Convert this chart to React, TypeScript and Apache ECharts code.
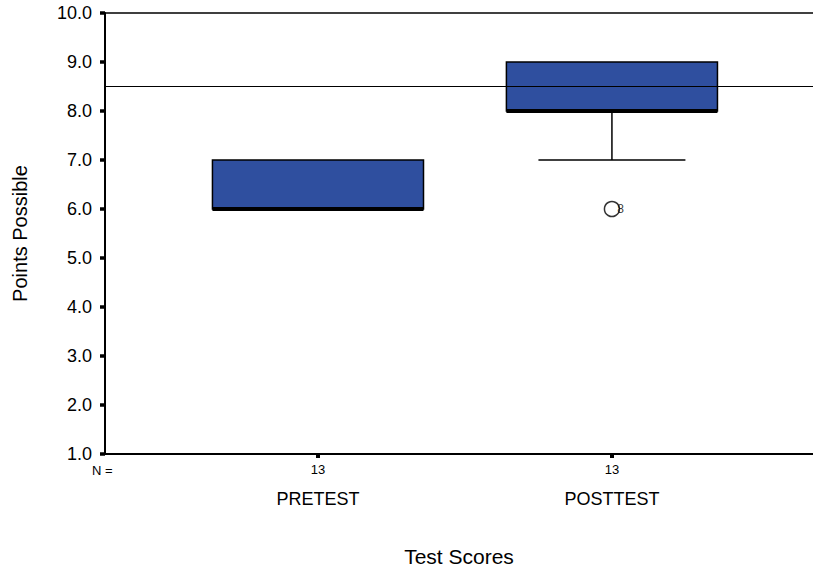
import React, { useEffect, useRef } from "react";
import * as echarts from "echarts";

// Box summaries: [position, lower whisker, Q1, median, Q3, upper whisker]
const categories = ["PRETEST", "POSTTEST"];
const groupCounts = [13, 13];
const pretestBox = [1, 6, 6, 6, 7, 7];
const posttestBox = [2, 7, 8, 8, 9, 9];
// Outliers: [position, value, case label]
const outliers: [number, number, string][] = [[2, 6, "8"]];
const referenceValue = 8.5;
const yTicks = [1, 2, 3, 4, 5, 6, 7, 8, 9, 10];

const FONT = "Liberation Sans, Arial, sans-serif";
const BOX_FILL = "#2f4f9f";

export default function App() {
  const ref = useRef<HTMLDivElement>(null);

  useEffect(() => {
    if (!ref.current) return;
    const chart = echarts.init(ref.current, null, { renderer: "svg" });

    const xMin = 0.2755;
    const xMax = 2.684;
    const halfBox = 0.359;
    const halfCap = 0.25;

    const boxes = [pretestBox, posttestBox];

    const renderBox = (params: any, api: any) => {
      const x = api.value(0);
      const lo = api.value(1);
      const q1 = api.value(2);
      const med = api.value(3);
      const q3 = api.value(4);
      const hi = api.value(5);
      const pL = api.coord([x - halfBox, q3]);
      const pR = api.coord([x + halfBox, q1]);
      const pC = api.coord([x, med]);
      const pLo = api.coord([x, lo]);
      const pHi = api.coord([x, hi]);
      const pQ1 = api.coord([x, q1]);
      const pQ3 = api.coord([x, q3]);
      const capL = api.coord([x - halfCap, lo])[0];
      const capR = api.coord([x + halfCap, lo])[0];
      const children: any[] = [];
      const lineStyle = { stroke: "#000", lineWidth: 1.5 };
      if (lo < q1) {
        children.push({ type: "line", shape: { x1: pQ1[0], y1: pQ1[1], x2: pLo[0], y2: pLo[1] }, style: lineStyle });
        children.push({ type: "line", shape: { x1: capL, y1: pLo[1], x2: capR, y2: pLo[1] }, style: lineStyle });
      }
      if (hi > q3) {
        children.push({ type: "line", shape: { x1: pQ3[0], y1: pQ3[1], x2: pHi[0], y2: pHi[1] }, style: lineStyle });
        children.push({ type: "line", shape: { x1: capL, y1: pHi[1], x2: capR, y2: pHi[1] }, style: lineStyle });
      }
      children.push({
        type: "rect",
        shape: { x: pL[0], y: pL[1], width: pR[0] - pL[0], height: pR[1] - pL[1] },
        style: { fill: BOX_FILL, stroke: "#000", lineWidth: 1.5 },
      });
      children.push({
        type: "line",
        shape: { x1: pL[0], y1: pC[1], x2: pR[0], y2: pC[1] },
        style: { stroke: "#000", lineWidth: 4 },
      });
      return { type: "group", children };
    };

    const option: any = {
      animation: false,
      backgroundColor: "#fff",
      textStyle: { fontFamily: FONT },
      grid: { left: 105, right: 0, top: 13, bottom: 119, containLabel: false },
      xAxis: [
        {
          type: "value",
          min: xMin,
          max: xMax,
          position: "bottom",
          axisLine: { show: true, onZero: false, lineStyle: { color: "#000", width: 2 } },
          axisTick: { show: true, customValues: [1, 2], length: 4, lineStyle: { color: "#000", width: 4 } },
          axisLabel: {
            customValues: [1, 2],
            formatter: (v: number) => String(groupCounts[Math.round(v) - 1] ?? ""),
            color: "#000",
            fontSize: 13,
            margin: 9,
            fontFamily: FONT,
          },
          splitLine: { show: false },
        },
        {
          type: "value",
          min: xMin,
          max: xMax,
          position: "bottom",
          offset: 28,
          axisLine: { show: false },
          axisTick: { show: false },
          axisLabel: {
            customValues: [1, 2],
            formatter: (v: number) => categories[Math.round(v) - 1] ?? "",
            color: "#000",
            fontSize: 18,
            margin: 8,
            fontFamily: FONT,
          },
          splitLine: { show: false },
          name: "Test Scores",
          nameLocation: "middle",
          nameGap: 64,
          nameTextStyle: { color: "#000", fontSize: 21, fontFamily: FONT },
        },
        {
          type: "value",
          min: xMin,
          max: xMax,
          position: "top",
          axisLine: { show: true, onZero: false, lineStyle: { color: "#000", width: 1.5 } },
          axisTick: { show: false },
          axisLabel: { show: false },
          splitLine: { show: false },
        },
      ],
      yAxis: {
        type: "value",
        min: yTicks[0],
        max: yTicks[yTicks.length - 1],
        interval: 1,
        axisLine: { show: true, onZero: false, lineStyle: { color: "#000", width: 2 } },
        axisTick: { show: true, length: 5, lineStyle: { color: "#000", width: 3.5 } },
        axisLabel: {
          formatter: (v: number) => v.toFixed(1),
          color: "#000",
          fontSize: 18,
          margin: 13,
          fontFamily: FONT,
        },
        splitLine: { show: false },
        name: "Points Possible",
        nameLocation: "middle",
        nameGap: 75,
        nameTextStyle: { color: "#000", fontSize: 20, fontFamily: FONT },
      },
      graphic: [
        {
          type: "text",
          left: 92,
          top: 464,
          style: { text: "N =", fontSize: 13, fill: "#000", fontFamily: FONT },
        },
      ],
      series: [
        {
          type: "custom",
          xAxisIndex: 0,
          renderItem: renderBox,
          data: boxes,
          encode: { x: 0, y: [1, 2, 3, 4, 5] },
          z: 3,
        },
        {
          type: "scatter",
          xAxisIndex: 0,
          data: outliers.map((o) => ({ value: [o[0], o[1]], name: o[2] })),
          symbol: "circle",
          symbolSize: 15,
          itemStyle: { color: "#fff", borderColor: "#000", borderWidth: 1.5 },
          label: {
            show: true,
            position: "right",
            distance: -3,
            formatter: (p: any) => p.name,
            fontSize: 12,
            color: "#000",
            fontFamily: FONT,
          },
          z: 4,
        },
        {
          type: "line",
          xAxisIndex: 0,
          data: [],
          markLine: {
            silent: true,
            symbol: "none",
            label: { show: false },
            lineStyle: { color: "#000", width: 1, type: "solid" },
            data: [{ yAxis: referenceValue }],
          },
          z: 5,
        },
      ],
    };

    chart.setOption(option);
    return () => chart.dispose();
  }, []);

  return (
    <div
      ref={ref}
      style={{ position: "fixed", left: 0, top: 0, width: 813, height: 573 }}
    />
  );
}
